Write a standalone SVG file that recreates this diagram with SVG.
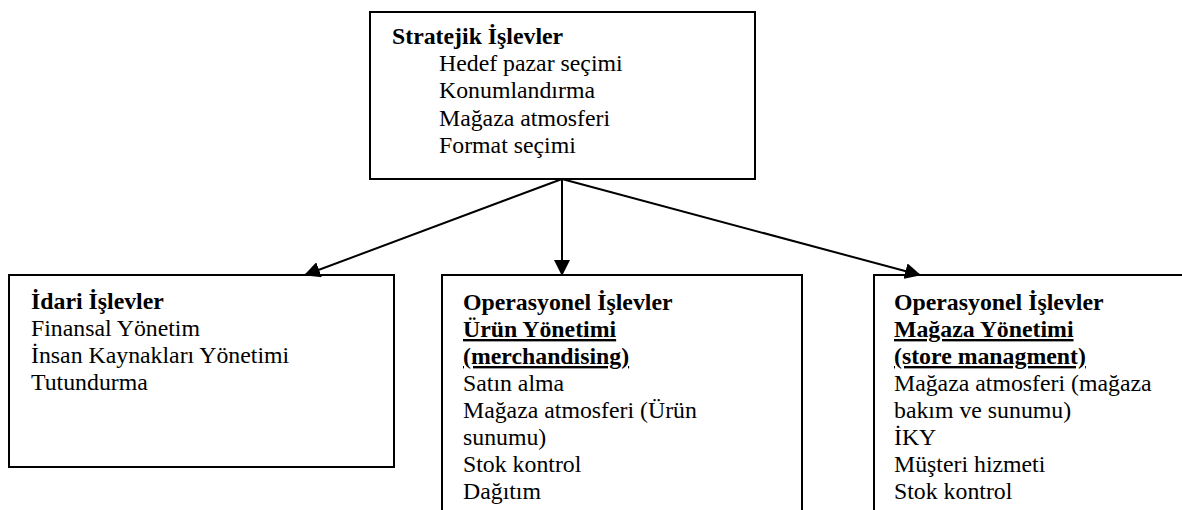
<svg xmlns="http://www.w3.org/2000/svg" width="1182" height="510" viewBox="0 0 1182 510">
<style>
.box{fill:#fff;stroke:#000;stroke-width:2}
text{font-family:'Liberation Serif','Times New Roman','DejaVu Serif',serif;font-size:23.8px;fill:#000}
.b{font-weight:bold}
.u{text-decoration:underline}
.c{stroke:#000;stroke-width:2;fill:none}
</style>
<defs>
<marker id="ah" markerUnits="userSpaceOnUse" markerWidth="16" markerHeight="16" viewBox="0 0 16 16" refX="15" refY="8" orient="auto">
<path d="M0,0 L16,8 L0,16 Z" fill="#000"/>
</marker>
</defs>
<rect width="1182" height="510" fill="#fff"/>
<g id="strategic" font-family="Liberation Serif, serif">
<rect class="box" x="370" y="12" width="385" height="167"/>
<text class="b" x="392" y="44">Stratejik İşlevler</text>
<text x="439" y="71.2">Hedef pazar seçimi</text>
<text x="439" y="98.4">Konumlandırma</text>
<text x="439" y="125.6">Mağaza atmosferi</text>
<text x="439" y="152.8">Format seçimi</text>
</g>
<g id="idari">
<rect class="box" x="9" y="275" width="385" height="192"/>
<text class="b" x="31" y="309">İdari İşlevler</text>
<text x="31" y="336">Finansal Yönetim</text>
<text x="31" y="363">İnsan Kaynakları Yönetimi</text>
<text x="31" y="390">Tutundurma</text>
</g>
<g id="urun">
<rect class="box" x="442" y="275" width="360" height="250"/>
<text class="b" x="463" y="310">Operasyonel İşlevler</text>
<text class="b u" x="463" y="337">Ürün Yönetimi</text>
<text class="b u" x="463" y="364">(merchandising)</text>
<text x="463" y="391">Satın alma</text>
<text x="463" y="418">Mağaza atmosferi (Ürün</text>
<text x="463" y="445">sunumu)</text>
<text x="463" y="472">Stok kontrol</text>
<text x="463" y="499">Dağıtım</text>
</g>
<g id="magaza">
<rect class="box" x="874" y="275" width="330" height="250"/>
<text class="b" x="894" y="310">Operasyonel İşlevler</text>
<text class="b u" x="894" y="337">Mağaza Yönetimi</text>
<text class="b u" x="894" y="364">(store managment)</text>
<text x="894" y="391">Mağaza atmosferi (mağaza</text>
<text x="894" y="418">bakım ve sunumu)</text>
<text x="894" y="445">İKY</text>
<text x="894" y="472">Müşteri hizmeti</text>
<text x="894" y="499">Stok kontrol</text>
</g>
<g id="connectors">
<line class="c" x1="562" y1="179" x2="305" y2="275" marker-end="url(#ah)"/>
<line class="c" x1="562" y1="179" x2="562" y2="275" marker-end="url(#ah)"/>
<line class="c" x1="562" y1="179" x2="920" y2="275" marker-end="url(#ah)"/>
</g>
</svg>
